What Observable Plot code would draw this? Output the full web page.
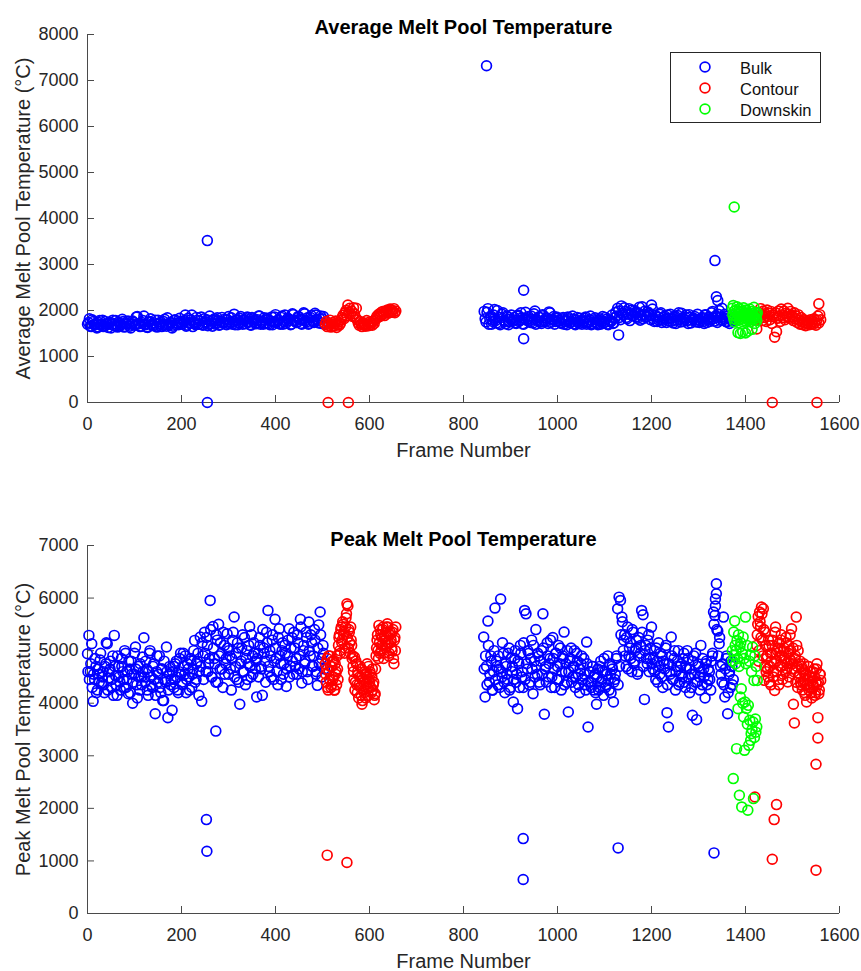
<!DOCTYPE html>
<html><head><meta charset="utf-8">
<script src="https://cdn.jsdelivr.net/npm/d3@7"></script>
<script src="https://cdn.jsdelivr.net/npm/@observablehq/plot@0.6"></script>
<style>
body{margin:0;background:#fff;}
#wrap{position:relative;width:861px;height:971px;font-family:"Liberation Sans",Arial,Helvetica,sans-serif;}
#wrap svg{display:block;}
.legend{position:absolute;left:670px;top:52px;width:151px;height:71px;border:1px solid #262626;background:#fff;box-sizing:border-box;}
</style></head><body><div id="wrap"></div>
<script>
// ---------------- data ----------------
const categories = ["Bulk", "Contour", "Downskin"];
const colors = ["#0000ff", "#ff0000", "#00ff00"];
const titles = ["Average Melt Pool Temperature", "Peak Melt Pool Temperature"];
const yLabels = ["Average Melt Pool Temperature (°C)", "Peak Melt Pool Temperature (°C)"];
const xLabel = "Frame Number";
const xTicks = [0, 200, 400, 600, 800, 1000, 1200, 1400, 1600];
const yTicksAvg = [0, 1000, 2000, 3000, 4000, 5000, 6000, 7000, 8000];
const yTicksPeak = [0, 1000, 2000, 3000, 4000, 5000, 6000, 7000];

// Average temperature — segments: first frame, frame step, values
const avgBulk1Start = 0, avgBulk1Step = 4;
const avgBulk1 = [1700,1820,1650,1760,1690,1620,1740,1680,1790,1660,1710,1630,1750,1700,1670,1780,1640,1720,1690,1760,1650,1700,1730,1620,1770,1680,
1860,1710,1650,1740,1880,1690,1630,1760,1700,1670,1790,1640,1720,1750,1680,1810,1660,1700,1740,1620,1780,1690,1730,1830,1710,
1760,1900,1680,1740,1800,1650,1720,1850,1700,1770,1690,1820,1740,1670,1880,1720,1790,1700,1840,1680,1760,1730,1810,1690,1870,
1750,1700,1920,1780,1690,1830,1740,1800,1710,1860,1760,1680,1820,1790,1730,1880,1700,1770,1840,1720,1810,1690,1860,1750,1910,
1780,1720,1850,1700,1900,1760,1820,1690,1930,1790,1740,1870,1810,1700,1950,1780,1840,1720,1890,1760,1940,1800,1730,1880,1820,1700];
const avgBulk1bStart = 2, avgBulk1bStep = 4;
const avgBulk1b = [1740,1660,1800,1690,1720,1640,1780,1700,1650,1760,1690,1730,1620,1790,1710,1670,1750,1680,1810,1640,1720,1770,1660,1700,1740,
1690,1870,1720,1660,1780,1700,1640,1750,1820,1680,1730,1660,1790,1710,1650,1760,1700,1840,1680,1740,1660,1800,1720,1690,1760,
1700,1780,1660,1830,1720,1900,1740,1690,1790,1710,1860,1680,1750,1800,1700,1770,1660,1820,1730,1780,1690,1850,1740,1700,1800,
1720,1840,1760,1690,1800,1730,1870,1700,1780,1820,1740,1690,1850,1760,1710,1800,1880,1740,1700,1790,1830,1720,1770,1690,1860,
1740,1800,1700,1880,1760,1720,1830,1790,1700,1910,1770,1740,1860,1720,1800,1930,1750,1700,1850,1790,1740,1900,1780,1820,1720,1870];
const avgBulk2Start = 844, avgBulk2Step = 4;
const avgBulk2 = [1980,1750,2040,1820,1700,1900,1780,2000,1720,1850,1950,1760,1880,1690,1810,
1760,1850,1720,1900,1790,1840,1700,1960,1820,1770,1880,1730,1990,1800,1860,1750,1910,1780,1840,1720,1950,1810,1870,1760,1830,
1780,1720,1850,1760,1690,1820,1740,1880,1710,1790,1750,1830,1700,1770,1860,1730,1800,1690,1750,1840,1720,1780,1700,1870,1740,1810,1690,1760,1900,1730,
1960,2050,1850,2100,1900,1980,1820,2040,1930,1880,2000,1860,1950,1790,2080,1910,1850,1970,1890,2120,
1820,1900,1760,1850,1950,1790,1880,1740,1830,1920,1770,1860,1720,1890,1800,1940,1760,1850,1780,1910,1730,1820,1870,1750,1800,
1780,1850,1720,1900,1810,1760,1950,1830,1880,1740,2000,1860,1790,1920,1750,1840,1800,1770];
const avgBulk2bStart = 846, avgBulk2bStep = 4;
const avgBulk2b = [1820,1960,1700,1880,1760,2020,1730,1850,1690,1920,1790,1710,1860,1750,1900,
1800,1730,1880,1760,1950,1710,1830,1790,1870,1740,1810,1930,1700,1780,1850,1720,1890,1760,1820,1970,1740,1800,1700,1860,1780,
1740,1820,1700,1790,1860,1730,1760,1810,1690,1850,1720,1780,1740,1830,1700,1760,1880,1710,1800,1740,1690,1820,1770,1730,1850,1700,1790,1760,1720,1840,
1880,1990,1800,1940,2060,1850,1920,1780,2010,1890,1960,1830,2070,1900,1820,1990,1870,1940,1800,2030,
1760,1870,1800,1920,1740,1850,1810,1900,1770,1830,1730,1880,1790,1950,1750,1840,1810,1900,1720,1860,1790,1830,1760,1920,1740,
1830,1760,1910,1740,1860,1800,1980,1770,1850,1920,1790,2050,1830,1760,1880,1720,1820,1860];
const avgBulkOut = [[255,3520],[255,0],[849,7320],[928,2440],[928,1385],[1130,1470],[1335,3085],[1338,2300],[1341,2215]];
const avgCont1Start = 506, avgCont1Step = 2;
const avgCont1 = [1700,1760,1650,1720,1680,1790,1640,1700,1740,1660,1710,1770,1630,1690,1750,1680,1720,1800,
1850,1900,1820,1950,2000,1880,2120,1960,2050,1920,1990,1870,2060,1930,1850,
2050,1800,1730,1680,1760,1700,1650,1740,1690,1720,1660,1780,1700,1670,1750,1690,1730,1680,1770,1720,1800,
1830,1880,1850,1920,1870,1950,1900,1980,1930,1890,1990,1960,2010,1940,1980,2030,1960,2000,1970,2040,1950,1990];
const avgCont2Start = 1424, avgCont2Step = 2;
const avgCont2 = [1600,1880,1960,1820,2040,1900,1780,1990,1850,1930,1760,2010,1870,1940,1800,1980,1720,1900,1860,
1420,1950,1540,1830,1990,1880,1760,2030,1910,1850,1990,1800,1940,1870,2050,1920,1830,1980,1900,1860,
1780,1950,1820,1880,1740,1910,1790,1700,1850,1760,1690,1800,1730,1670,1780,1710,1750,1690,1800,1720,
1760,1700,1820,1740,1680,1790,1880,1730,1910,1800];
const avgContOut = [[512,0],[555,0],[1457,0],[1552,0],[1556,2145]];
const avgDownStart = 1372, avgDownStep = 1;
const avgDown = [2050,1900,2110,1820,1980,1750,2000,1880,1950,1790,2080,1850,1520,1930,1800,2040,1870,1500,1960,
1820,1990,1760,1540,1900,2060,1850,1940,1780,1510,2010,1880,1830,1970,1550,1790,1920,1860,2030,1810,
1900,1760,1980,1590,1850,1940,1800,2070,1870,1720,1960,1830,1900,1780,1950];
const avgDownOut = [[1376,4250]];

// Peak temperature
const pkBulk1Start = 0, pkBulk1Step = 3;
const pkBulk1 = [4940,5290,4600,5130,4035,4450,4700,4250,4550,4820,4380,4600,4200,4750,5130,4480,4650,4300,4900,5290,
4520,4150,4700,4400,4850,4600,4300,4950,4450,4180,4650,4800,4000,4550,5070,4350,4700,4250,4500,4880,
5245,4400,4650,4150,4950,4500,4300,4750,3800,4600,4400,4900,4200,4650,4050,4450,5070,3725,4550,4350,
3865,4700,4450,4800,4250,4600,4950,4400,4950,4550,4200,4750,4500,4850,4300,4650,5195,4450,4800,4150,
5260,4035,4900,5350,4600,5100,4750,5955,4500,5460,4850,4400,5200,5500,4650,4950,4300,5100,4750,5320,
4550,4900,4250,5200,5640,4700,4450,5050,3980,4800,5300,4600,4350,5000,4750,5460,4500,4900,5150,4650,
4120,4950,5250,4700,4150,5050,4800,5350,5765,4600,4900,5200,4450,5595,4850,4350,5415,4750,5000,4550,
5100,4320,4900,5415,4700,5250,4550,5050,4850,5300,4650,5595,4385,5000,4750,5350,4600,5545,4900,5150,
4700,5400,4550,4340,5490,5735,4850,5100,4650];
const pkBulk1bStart = 1, pkBulk1bStep = 3;
const pkBulk1b = [4600,4450,4750,4300,4550,4850,4200,4650,4400,4950,4500,4350,4700,5150,4250,4600,4800,4450,4150,4700,
4350,4900,4500,4250,4700,4450,5000,4300,4600,4800,4200,4550,4400,4950,4650,4100,4500,4750,4350,4600,
4500,4800,4250,4600,5000,4350,4700,4450,4150,4900,4550,4300,4650,4050,4800,4400,4600,4250,4700,4450,
4600,4300,4750,4500,4200,4850,4550,4350,4700,4900,4450,4650,4250,4800,4550,5000,4400,4750,4950,4600,
4700,5150,4450,4950,5250,4600,4850,5400,4500,5050,4750,5300,4400,4900,5150,4650,5350,4550,4850,5050,
5000,4650,4850,5350,4500,4950,5150,4400,4750,5050,4600,5250,4850,4450,5100,4700,5300,4550,4950,4800,
4850,4500,5100,4650,5400,4950,4400,5150,4700,5000,4500,5300,4800,5050,4600,5250,4900,4450,5150,4750,
4950,4650,5200,4500,5050,4800,5350,4700,4550,5150,4900,5450,4600,5100,4800,5250,4450,5000,5300,4700,
4900,5200,4600,5050,4750,5300,4500,4950];
const pkBulk2Start = 843, pkBulk2Step = 3;
const pkBulk2 = [5258,4118,4700,5562,4400,4900,4250,4600,5810,4800,4350,4650,5980,4500,4950,4200,4700,4450,5050,4300,
4600,4023,4850,4400,3896,4750,5100,4500,4300,5765,5700,4650,4950,4400,5200,4180,4800,5400,4550,4900,
4350,5000,5700,3790,4700,5150,4500,4850,4300,5250,4650,4950,4450,5100,4750,4250,4900,5353,4600,4400,
3832,4800,5050,4500,4700,4300,4950,4550,4200,4750,4450,4850,4350,5163,3548,4600,4400,4700,4250,4550,
3980,4650,4300,4800,4450,4150,4600,4350,4900,4250,4550,4700,4023,4450,4850,5797,6018,5955,5638,5000,
5300,4700,5450,4900,5150,4600,5350,4800,5050,4550,5250,4950,5765,5682,4073,5100,4750,5300,4850,5448,
4650,5000,4450,4800,5150,4550,4900,4300,4750,5050,3820,3548,4600,5258,4450,4850,4250,4700,5000,4400,
4750,4500,4950,4300,4650,4850,4200,4550,3769,4900,4400,3687,4750,4500,5100,4350,4650,4100,4800,4450,
4600,4250,4900,5733,5670,6272,5372,5131,4700,4400,5638,4118,4850,3800,4550,4300,4700,4450];
const pkBulk2bStart = 844, pkBulk2bStep = 3;
const pkBulk2b = [4650,4900,4350,5100,4550,4800,4250,5000,4450,4700,4900,4300,4600,5150,4400,4750,4550,4950,4250,4850,
4700,4450,5000,4550,4800,4300,4950,4600,5150,4450,4750,5000,4350,4850,4650,5100,4500,4700,4950,4400,
4800,4550,5050,4650,4400,4900,4750,5200,4500,4850,4300,4950,4700,4450,5050,4600,4850,4350,4750,5000,
4600,4850,4400,4700,5000,4500,4800,4350,4650,4900,4450,4550,4250,4750,4400,4600,4300,4700,4500,4200,
4500,4250,4700,4400,4600,4850,4300,4550,4450,4750,4200,4650,4400,4550,4900,4350,4700,5300,5550,5200,
4900,5250,4650,5050,4850,5400,4750,5000,5200,4600,4900,5100,5350,4700,5000,4850,5200,4600,5050,4750,
4850,4600,5050,4400,4700,4950,4500,4800,4650,5100,4350,4750,4550,4900,4450,5000,4600,4800,4350,4700,
4550,4850,4400,4700,5000,4500,4650,4300,4800,4550,4950,4400,4700,4250,4600,4850,4500,4750,4350,4650,
4450,4800,4950,5500,5850,5400,4900,5250,4550,4750,4350,4650,4900,4200,4600,4800,4350];
const pkBulkOut = [[253,1786],[254,1185],[273,3470],[927,1425],[927,646],[1129,1248],[1333,1153],[1336,5980],[1338,6082]];
const pkCont1Start = 506, pkCont1Step = 2;
const pkCont1 = [4750,4400,4850,4250,4600,4900,4300,4700,4450,4800,4250,4550,4350,4650,
5100,5300,4950,5450,5200,5500,5350,5050,5625,5890,5850,5400,5150,5450,5100,
4900,4600,4880,4400,4750,4200,4550,4350,4700,4150,3980,4450,4250,4600,4100,4500,4300,4700,4400,4550,4200,4650,4350,4065,4180,
4900,5200,5000,5480,4950,5300,5100,5400,4850,5250,5050,5450,5510,5150,4950,5350,5200,5000,5400,4750,5250,5450];
const pkCont1bStart = 507, pkCont1bStep = 2;
const pkCont1b = [4550,4650,4300,4900,4450,4700,4350,4800,4500,4250,4750,4600,4900,4450,
5250,5000,5400,5150,5550,5300,4950,5450,5700,5250,5050,5350,4950,5200,4850,
4700,4450,4250,4800,4350,4600,4100,4500,4300,4650,4050,4400,4200,4550,4350,4750,4150,4450,4600,4300,4500,4250,4400,4150,
4650,5050,5300,4850,5150,5400,5000,5250,5450,4950,5200,5350,5100,5450,4900,5300,5150,5050,5350,4850,5200,5000];
const pkCont2Start = 1424, pkCont2Step = 2;
const pkCont2 = [5100,5500,4800,5733,5450,5828,5200,5797,4435,5350,4600,
4900,4500,5100,4700,4350,4950,5200,4600,4244,5448,4800,5000,4450,5150,4700,5300,4900,4550,5050,4800,5250,4650,4403,5100,4850,5000,5416,4750,
3980,3624,4900,5638,4700,5000,4500,4800,4350,4650,4400,4750,4200,4550,4023,4450,4700,4300,4600,4200,4500,4350,4650,4150,4400,4750,3725,4181,4550,4434];
const pkCont2bStart = 1425, pkCont2bStep = 2;
const pkCont2b = [5300,5650,5000,5550,5250,5700,4900,5400,4700,5100,4850,
4650,5200,4400,4950,4800,5100,4500,4750,5350,4950,4600,5050,4350,4900,5200,4700,4450,5000,4850,4600,5150,4750,4950,4500,5300,4800,4650,5050,
4600,4850,4400,5100,4300,4750,4550,4400,4700,4250,4600,4450,4150,4550,4350,4700,4250,4500,4400,4100,4600,4300,4500,4200,4650,4350,4400,4250,4550];
const pkContOut = [[510,1110],[552,970],[1420,2217],[1466,2071],[1461,1786],[1457,1033],[1550,824],[1550,2838],[1554,3338]];
const pkDownStart = 1372, pkDownStep = 1;
const pkDown = [5000,4800,2566,5353,4910,5562,5100,4751,5000,3136,5195,4850,3896,5300,4700,2249,5068,4118,5150,4276,
2027,4950,4000,5258,3738,4850,3104,4023,5638,4751,3900,5100,3600,1964,3959,3199,4800,3674,4910,3294,
3421,4600,3500,5068,3643,2186,4434,3350,4900,3700,3450,4700,3550,4434];

// ---------------- build ----------------
const FONT = '"Liberation Sans", Arial, Helvetica, sans-serif';
const AX = "#4a4a4a";
const R = 4.9, SW = 1.7;
const seg = (start, step, values) => values.map((v, i) => ({frame: start + i * step, v}));
const pts = pairs => pairs.map(([frame, v]) => ({frame, v}));

const avgSeries = [
  seg(avgBulk1Start, avgBulk1Step, avgBulk1).concat(seg(avgBulk1bStart, avgBulk1bStep, avgBulk1b),
    seg(avgBulk2Start, avgBulk2Step, avgBulk2), seg(avgBulk2bStart, avgBulk2bStep, avgBulk2b), pts(avgBulkOut)),
  seg(avgCont1Start, avgCont1Step, avgCont1).concat(seg(avgCont2Start, avgCont2Step, avgCont2), pts(avgContOut)),
  seg(avgDownStart, avgDownStep, avgDown).concat(pts(avgDownOut))
];
const pkSeries = [
  seg(pkBulk1Start, pkBulk1Step, pkBulk1).concat(seg(pkBulk1bStart, pkBulk1bStep, pkBulk1b),
    seg(pkBulk2Start, pkBulk2Step, pkBulk2), seg(pkBulk2bStart, pkBulk2bStep, pkBulk2b), pts(pkBulkOut)),
  seg(pkCont1Start, pkCont1Step, pkCont1).concat(seg(pkCont1bStart, pkCont1bStep, pkCont1b),
    seg(pkCont2Start, pkCont2Step, pkCont2), seg(pkCont2bStart, pkCont2bStep, pkCont2b), pts(pkContOut)),
  seg(pkDownStart, pkDownStep, pkDown)
];

const fmt = d3.format("d");
function panel({title, ylabel, yTicks, height, marginTop, marginBottom, series, titleDy}) {
  return Plot.plot({
    width: 861, height, marginLeft: 87, marginRight: 22, marginTop, marginBottom,
    style: {fontFamily: FONT, color: "#262626", background: "white", overflow: "visible"},
    x: {domain: [xTicks[0], xTicks[xTicks.length - 1]]},
    y: {domain: [yTicks[0], yTicks[yTicks.length - 1]]},
    marks: [
      Plot.ruleY([yTicks[0]], {stroke: AX, strokeWidth: 1}),
      Plot.ruleX([xTicks[0]], {stroke: AX, strokeWidth: 1}),
      Plot.axisX(xTicks, {tickSize: 7, dy: -7, tickFormat: () => "", label: null, stroke: AX}),
      Plot.axisY(yTicks, {tickSize: 7, dx: 7, tickFormat: () => "", label: null, stroke: AX}),
      ...series.map((s, i) => Plot.dot(s, {x: "frame", y: "v", r: R, stroke: colors[i], strokeWidth: SW, fill: "none"})),
      Plot.axisX(xTicks, {tickSize: 0, tickPadding: 15, fontSize: 18, tickFormat: fmt, label: null, fill: "#262626"}),
      Plot.axisY(yTicks, {tickSize: 0, tickPadding: 9, fontSize: 18, tickFormat: fmt, label: null, fill: "#262626"}),
      Plot.text([xLabel], {text: d => d, frameAnchor: "bottom", dy: 54, lineAnchor: "bottom", fontSize: 20, fill: "#262626"}),
      Plot.text([ylabel], {text: d => d, frameAnchor: "left", dx: -58, rotate: -90, textAnchor: "middle", lineAnchor: "bottom", fontSize: 20, fill: "#262626"}),
      Plot.text([title], {text: d => d, frameAnchor: "top", dy: titleDy, fontWeight: "bold", fontSize: 20, fill: "#000"})
    ]
  });
}

const wrap = document.getElementById("wrap");
wrap.appendChild(panel({title: titles[0], ylabel: yLabels[0], yTicks: yTicksAvg, height: 500, marginTop: 34, marginBottom: 98, series: avgSeries, titleDy: -15}));
wrap.appendChild(panel({title: titles[1], ylabel: yLabels[1], yTicks: yTicksPeak, height: 471, marginTop: 45, marginBottom: 58, series: pkSeries, titleDy: -14}));

const legend = document.createElement("div");
legend.className = "legend";
legend.innerHTML = `<svg width="149" height="69" style="display:block">${categories.map((c, i) =>
  `<circle cx="34" cy="${14 + 21 * i}" r="${R}" fill="none" stroke="${colors[i]}" stroke-width="${SW}"/>` +
  `<text x="69" y="${20.5 + 21 * i}" font-size="16.5" fill="#111" font-family='${FONT}'>${c}</text>`).join("")}</svg>`;
wrap.appendChild(legend);
</script></body></html>
